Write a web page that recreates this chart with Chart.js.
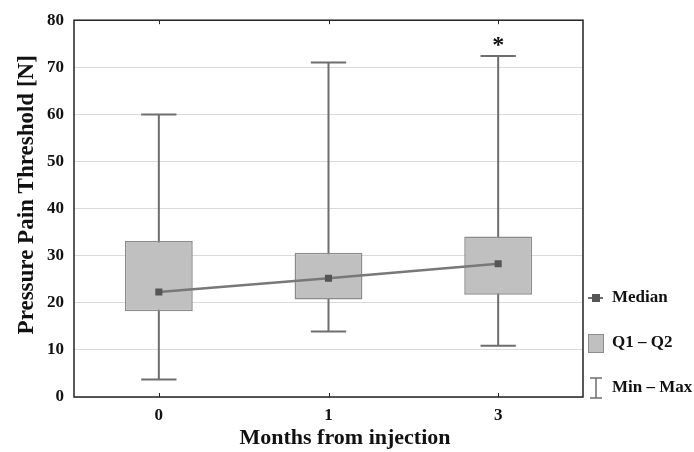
<!DOCTYPE html>
<html>
<head>
<meta charset="utf-8">
<script src="https://cdn.jsdelivr.net/npm/chart.js@4.4.1/dist/chart.umd.min.js"></script>
<style>
  html, body { margin: 0; padding: 0; background: #fff; }
  #wrap { width: 694px; height: 452px; }
</style>
</head>
<body>
<div id="wrap"><canvas id="chart" width="694" height="452"></canvas></div>
<script>
const categories = ['0', '1', '3'];
const minVals = [3.7, 13.9, 10.9];
const q1Vals = [18.2, 20.7, 21.7];
const medianVals = [22.3, 25.2, 28.3];
const q3Vals = [33.1, 30.6, 34.1];
const maxVals = [60, 71, 72.4];
const marks = ['', '', '*'];
const yTicks = [0, 10, 20, 30, 40, 50, 60, 70, 80];

const serif = "'Liberation Serif', 'Times New Roman', serif";

// whiskers, frame, inward ticks, asterisk and the right-hand legend
const boxExtras = {
  id: 'boxExtras',
  beforeDatasetsDraw(chart) {
    const { ctx, scales: { x, y } } = chart;
    const bars = chart.getDatasetMeta(0).data;
    ctx.save();
    ctx.strokeStyle = '#6e6e6e';
    ctx.lineWidth = 2;
    bars.forEach((bar, i) => {
      const cx = x.getPixelForValue(i);
      const cap = bar.width * 0.26;
      const yMin = y.getPixelForValue(minVals[i]);
      const yMax = y.getPixelForValue(maxVals[i]);
      ctx.beginPath();
      ctx.moveTo(cx, yMin);
      ctx.lineTo(cx, yMax);
      ctx.moveTo(cx - cap, yMin);
      ctx.lineTo(cx + cap, yMin);
      ctx.moveTo(cx - cap, yMax);
      ctx.lineTo(cx + cap, yMax);
      ctx.stroke();
    });
    ctx.restore();
  },
  afterDraw(chart) {
    const { ctx, chartArea: a, scales: { x, y } } = chart;
    ctx.save();
    // frame
    ctx.strokeStyle = '#222';
    ctx.lineWidth = 1.5;
    ctx.strokeRect(a.left, a.top, a.right - a.left, a.bottom - a.top);
    // inward ticks
    ctx.lineWidth = 1;
    categories.forEach((c, i) => {
      const cx = Math.round(x.getPixelForValue(i)) + 0.5;
      ctx.beginPath();
      ctx.moveTo(cx, a.bottom);
      ctx.lineTo(cx, a.bottom - 4);
      ctx.moveTo(cx, a.top);
      ctx.lineTo(cx, a.top + 4);
      ctx.stroke();
    });
    // significance marks
    ctx.fillStyle = '#111';
    ctx.font = 'bold 24px ' + serif;
    ctx.textAlign = 'center';
    ctx.textBaseline = 'middle';
    marks.forEach((m, i) => {
      if (!m) return;
      ctx.fillText(m, x.getPixelForValue(i), y.getPixelForValue(maxVals[i]) - 10);
    });
    // legend
    const lx = a.right + 13;
    const tx = a.right + 29;
    ctx.font = 'bold 17px ' + serif;
    ctx.textAlign = 'left';
    ctx.fillStyle = '#111';
    let ly = 298;
    ctx.strokeStyle = '#6e6e6e';
    ctx.lineWidth = 2;
    ctx.beginPath();
    ctx.moveTo(lx - 8, ly);
    ctx.lineTo(lx + 7, ly);
    ctx.stroke();
    ctx.fillStyle = '#555';
    ctx.fillRect(lx - 4, ly - 4, 8, 8);
    ctx.fillStyle = '#111';
    ctx.fillText('Median', tx, ly);
    ly = 343;
    ctx.fillStyle = '#c0c0c0';
    ctx.fillRect(lx - 8, ly - 9, 16, 19);
    ctx.strokeStyle = '#8c8c8c';
    ctx.lineWidth = 1;
    ctx.strokeRect(lx - 7.5, ly - 8.5, 15, 18);
    ctx.fillStyle = '#111';
    ctx.fillText('Q1 \u2013 Q2', tx, ly);
    ly = 388;
    ctx.strokeStyle = '#6e6e6e';
    ctx.lineWidth = 1.5;
    ctx.beginPath();
    ctx.moveTo(lx, ly - 10);
    ctx.lineTo(lx, ly + 10);
    ctx.moveTo(lx - 6, ly - 10);
    ctx.lineTo(lx + 6, ly - 10);
    ctx.moveTo(lx - 6, ly + 10);
    ctx.lineTo(lx + 6, ly + 10);
    ctx.stroke();
    ctx.fillText('Min \u2013 Max', tx, ly);
    ctx.restore();
  }
};

new Chart(document.getElementById('chart'), {
  data: {
    labels: categories,
    datasets: [
      {
        type: 'bar',
        label: 'Q1 \u2013 Q2',
        data: q1Vals.map((q, i) => [q, q3Vals[i]]),
        backgroundColor: '#c0c0c0',
        borderColor: '#8c8c8c',
        borderWidth: 1.5,
        borderSkipped: false,
        barPercentage: 0.4,
        categoryPercentage: 1,
        order: 2
      },
      {
        type: 'line',
        label: 'Median',
        data: medianVals,
        borderColor: '#787878',
        borderWidth: 2.5,
        pointStyle: 'rect',
        pointRadius: 5,
        pointBackgroundColor: '#555',
        pointBorderColor: '#555',
        pointBorderWidth: 0,
        tension: 0,
        order: 1
      }
    ]
  },
  options: {
    responsive: false,
    animation: false,
    layout: { padding: { top: 16, right: 111, left: 0, bottom: 0 } },
    plugins: {
      legend: { display: false },
      tooltip: { enabled: false }
    },
    scales: {
      x: {
        offset: true,
        grid: { display: false, drawTicks: false },
        border: { display: false },
        ticks: { color: '#111', font: { family: serif, size: 17, weight: 'bold' }, padding: 8 },
        title: {
          display: true,
          // leading spaces nudge the title right, as in the original
          text: '\u2003\u2002Months from injection',
          color: '#111',
          font: { family: serif, size: 22, weight: 'bold' },
          padding: { top: 0, bottom: 0 }
        },
        afterFit: s => { s.height = 55; }
      },
      y: {
        min: 0,
        max: 80,
        afterBuildTicks: s => { s.ticks = yTicks.map(v => ({ value: v })); },
        grid: { color: '#dadada', lineWidth: 1, drawTicks: false },
        border: { display: false },
        ticks: { color: '#111', font: { family: serif, size: 17, weight: 'bold' }, padding: 10 },
        title: {
          display: true,
          text: '\u2003\u2009Pressure Pain Threshold [N]',
          color: '#111',
          font: { family: serif, size: 23, weight: 'bold' },
          padding: { top: 13, bottom: 0 }
        },
        afterFit: s => { s.width = 74; }
      }
    }
  },
  plugins: [boxExtras]
});
</script>
</body>
</html>
